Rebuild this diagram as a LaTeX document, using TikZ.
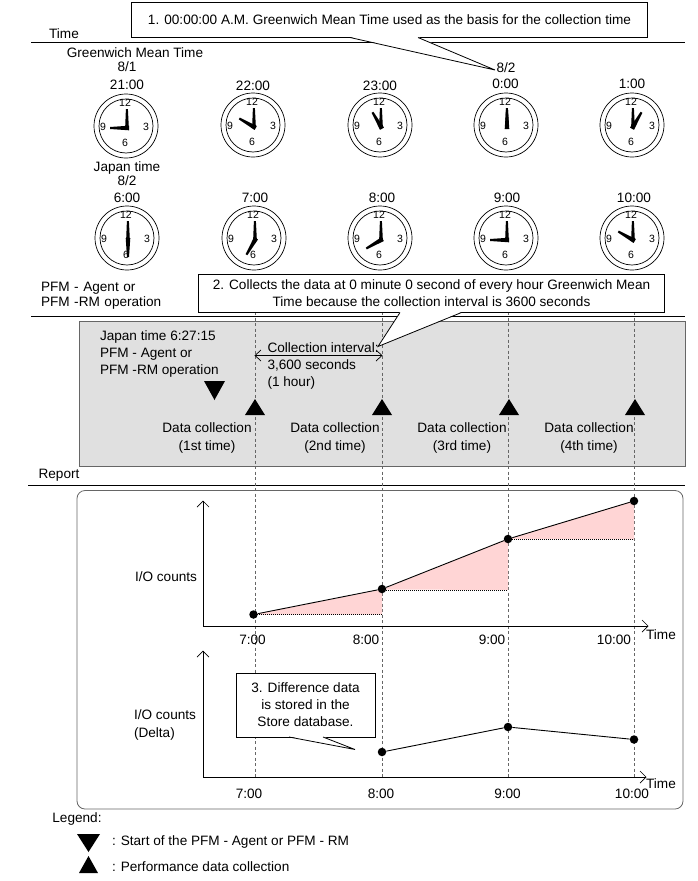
\documentclass[tikz,border=0pt]{standalone}
\usepackage{fontspec}
\setmainfont{Liberation Sans}
\newcommand{\txtfont}{\fontsize{13.6}{15}\selectfont}
\newcommand{\digfont}{\fontsize{10.5}{12}\selectfont}
\definecolor{graybg}{HTML}{E0E0E0}
\definecolor{grayedge}{HTML}{666666}
\definecolor{pinkfill}{HTML}{FFD5D5}
\tikzset{
  lbl/.style={inner sep=0pt,outer sep=0pt,align=center,font=\txtfont},
  lblleft/.style={lbl,align=left,anchor=west},
  digit/.style={inner sep=0pt,font=\digfont},
  rule/.style={line width=0.9pt,black},
  guide/.style={line width=0.6pt,grayedge,dash pattern=on 3pt off 2.5pt},
  calloutbox/.style={draw=black,fill=white,line width=0.8pt,inner sep=0pt,outer sep=0pt,align=center,font=\txtfont,anchor=north west},
  callouttail/.style={draw=black,line width=0.8pt,line join=miter},
  tailfill/.style={fill=white,draw=none},
  axisline/.style={line width=0.9pt,black},
  axishead/.style={line width=0.7pt,black},
  dataline/.style={line width=0.9pt,black},
  drop/.style={line width=0.8pt,black,dash pattern=on 1pt off 1pt},
  datapt/.style={circle,fill=black,inner sep=0pt,minimum size=8.5pt},
  tri/.style={fill=black,draw=none},
  shade/.style={fill=pinkfill,draw=none},
}
\newcommand{\clockface}[3]{%
  \begin{scope}[shift={(#1,#2)},y=1pt]
    \draw[line width=0.7pt] (0,0) circle (32);
    \draw[line width=0.7pt] (0,0) circle (27);
    \node[digit] at (-1,23) {12};
    \node[digit] at (20,-1) {3};
    \node[digit] at (-1,-17) {6};
    \node[digit] at (-23,-1) {9};
    \fill (-0.9,-3) -- (-0.1,17) -- (1.9,17) -- (2.9,-3) -- cycle;
    \fill ({1-2*cos(#3)+2.3*cos(#3+90)},{-2-2*sin(#3)+2.3*sin(#3+90)}) -- ({1+17*cos(#3)+1*cos(#3+90)},{-2+17*sin(#3)+1*sin(#3+90)}) -- ({1+17*cos(#3)+1*cos(#3-90)},{-2+17*sin(#3)+1*sin(#3-90)}) -- ({1-2*cos(#3)+2.3*cos(#3-90)},{-2-2*sin(#3)+2.3*sin(#3-90)}) -- cycle;
  \end{scope}}
\newcommand{\uptri}[2]{\fill[tri] (#1-10,#2) -- (#1,#2-16) -- (#1+10,#2) -- cycle;}
\begin{document}
\begin{tikzpicture}[x=1pt,y=-1pt]
\useasboundingbox (0,0) rectangle (697,881);
% rules
\draw[rule] (31,42) -- (685,42);
\draw[rule] (31,316.5) -- (685,316.5);
\draw[rule] (28,485) -- (685,485);
% panels
\fill[graybg,draw=grayedge,line width=0.8pt] (79.5,321) rectangle (685,466);
\draw[grayedge,line width=0.8pt,rounded corners=8pt] (77,490.5) rectangle (683,809);
% guides
\coordinate (g1t) at (255,312); \coordinate (g1b) at (255,777);
\coordinate (g2t) at (382,312); \coordinate (g2b) at (382,777);
\coordinate (g3t) at (508,312); \coordinate (g3b) at (508,777);
\coordinate (g4t) at (634,312); \coordinate (g4b) at (634,777);
\draw[guide] (g1t) -- (g1b);
\draw[guide] (g2t) -- (g2b);
\draw[guide] (g3t) -- (g3b);
\draw[guide] (g4t) -- (g4b);
% top labels
\node[lbl] (ltime) at (64,33.5) {Time};
\node[lbl] (lgmt) at (135,52.5) {Greenwich Mean Time};
\node[lbl] (l81) at (127,67) {8/1};
\node[lbl] (lj) at (127,167.5) {Japan time};
\node[lbl] (l82a) at (127,181) {8/2};
\node[lbl] (l82b) at (506,67.5) {8/2};
\foreach \nm/\px/\py/\t in {a/127/84.5/21:00,b/253/86/22:00,c/380/85.5/23:00,d/505.5/84/0:00,e/632/84/1:00,f/127/198/6:00,g/255/198/7:00,h/382/198/8:00,i/507/198/9:00,j/634/198/10:00}
  \node[lbl] (t\nm) at (\px,\py) {\t};
% clocks
\clockface{126}{126}{180}
\clockface{253}{125}{150}
\clockface{380}{125}{120}
\clockface{506}{125}{90}
\clockface{632}{125}{60}
\clockface{127}{238}{270}
\clockface{254}{238}{240}
\clockface{380}{238}{210}
\clockface{506}{238}{180}
\clockface{632}{238}{150}
% operation labels
\node[lblleft,align=left,text width=140pt] (lop) at (41,296) {\fontsize{13.6}{17}\selectfont PFM - Agent or\\PFM -RM operation};
% callout 1
\node[calloutbox,minimum width=516pt,minimum height=35pt] (c1) at (131.5,2.5) {1. 00:00:00 A.M. Greenwich Mean Time used as the basis for the collection time};
\coordinate (c1tip) at (495,70);
\fill[tailfill] (350,37) -- (c1tip) -- (418,37) -- cycle;
\draw[callouttail] (350,37.5) -- (c1tip) -- (418,37.5);
% callout 2
\node[calloutbox,minimum width=466pt,minimum height=38pt,font=\fontsize{13.6}{17}\selectfont] (c2) at (198.5,274.5) {2. Collects the data at 0 minute 0 second of every hour Greenwich Mean\\Time because the collection interval is 3600 seconds};
\coordinate (c2tip) at (378,346.5);
% gray panel text
\node[lblleft,align=left,font=\fontsize{13.6}{17}\selectfont] (lst) at (100,353.5) {Japan time 6:27:15\\PFM - Agent or\\PFM -RM operation};
\fill[tailfill] (400,312) -- (c2tip) -- (461.5,312) -- cycle;
\draw[callouttail] (400,312.5) -- (c2tip) -- (461.5,312.5);
\node[lblleft,align=left,font=\fontsize{13.6}{17}\selectfont] (lint) at (267.5,365.5) {Collection interval:\\3,600 seconds\\(1 hour)};
\coordinate (ia) at (255,355.5); \coordinate (ib) at (382,355.5);
\draw[axishead] (ia) -- (ib);
\draw[axishead] (261,350) -- (ia) -- (261,361);
\draw[axishead] (376,350) -- (ib) -- (376,361);
\fill[tri] (204,381) -- (225,381) -- (214.5,400) -- cycle;
\uptri{255}{415}
\uptri{382}{415}
\uptri{509}{415}
\uptri{635}{415}
\node[lbl,font=\fontsize{13.6}{18}\selectfont] (dc1) at (207,438) {Data collection\\(1st time)};
\node[lbl,font=\fontsize{13.6}{18}\selectfont] (dc2) at (335,438) {Data collection\\(2nd time)};
\node[lbl,font=\fontsize{13.6}{18}\selectfont] (dc3) at (462,438) {Data collection\\(3rd time)};
\node[lbl,font=\fontsize{13.6}{18}\selectfont] (dc4) at (589,438) {Data collection\\(4th time)};
\node[lbl] (lrep) at (59,475) {Report};
% chart 1
\coordinate (o1) at (203,626);
\coordinate (y1) at (203,501);
\coordinate (x1) at (648,626);
\fill[shade] (253,614.5) -- (382,589.5) -- (382,614.5) -- cycle;
\fill[shade] (382,589.5) -- (508,539) -- (508,590) -- cycle;
\fill[shade] (508,539) -- (634,501) -- (634,539.5) -- cycle;
\draw[drop] (253,614.5) -- (382,614.5);
\draw[drop] (382,590) -- (508,590);
\draw[drop] (508,539.5) -- (634,539.5);
\draw[axisline] (y1) -- (o1) -- (x1);
\draw[axishead] (197,507) -- (y1) -- (209,507);
\draw[axishead] (642,620) -- (x1) -- (642,632);
\node[datapt] (p1) at (253.5,614.5) {};
\node[datapt] (p2) at (382,589) {};
\node[datapt] (p3) at (508,539) {};
\node[datapt] (p4) at (634,501) {};
\draw[dataline] (p1) -- (p2) -- (p3) -- (p4);
\node[lbl] (lio) at (166,577) {I/O counts};
\node[lbl] (x17) at (252.5,640) {7:00};
\node[lbl] (x18) at (366,640) {8:00};
\node[lbl] (x19) at (492,640) {9:00};
\node[lbl] (x110) at (614,640) {10:00};
\node[lbl] (lt1) at (661,635) {Time};
% chart 2
\coordinate (o2) at (203,777);
\coordinate (y2) at (203,651);
\coordinate (x2) at (646,777);
\draw[axisline] (y2) -- (o2) -- (x2);
\draw[axishead] (197,657) -- (y2) -- (209,657);
\draw[axishead] (640,771) -- (x2) -- (640,783);
\node[datapt] (q2) at (382,752) {};
\node[datapt] (q3) at (508,727) {};
\node[datapt] (q4) at (634,739.5) {};
\draw[dataline] (q2) -- (q3) -- (q4);
\node[lblleft,align=left,font=\fontsize{13.6}{18}\selectfont] (lio2) at (134,725) {I/O counts\\(Delta)};
\node[lbl] (x27) at (249,794) {7:00};
\node[lbl] (x28) at (381,794) {8:00};
\node[lbl] (x29) at (507.5,794) {9:00};
\node[lbl] (x210) at (632,794) {10:00};
\node[lbl] (lt2) at (661,784) {Time};
% callout 3
\node[calloutbox,minimum width=139pt,minimum height=64pt,font=\fontsize{13.6}{17}\selectfont] (c3) at (236,673) {3. Difference data\\is stored in the\\Store database.};
\coordinate (c3tip) at (355,749.5);
\fill[tailfill] (289,736.5) -- (c3tip) -- (323,736.5) -- cycle;
\draw[callouttail] (289,737) -- (c3tip) -- (323,737);
% legend
\node[lbl] (lleg) at (77,819) {Legend:};
\fill[tri] (77,834) -- (100,834) -- (88.5,852) -- cycle;
\fill[tri] (79,873) -- (98,873) -- (88.5,856) -- cycle;
\node[lblleft] (leg1) at (112,841.5) {: Start of the PFM - Agent or PFM - RM};
\node[lblleft] (leg2) at (112,867) {: Performance data collection};
\end{tikzpicture}
\end{document}
